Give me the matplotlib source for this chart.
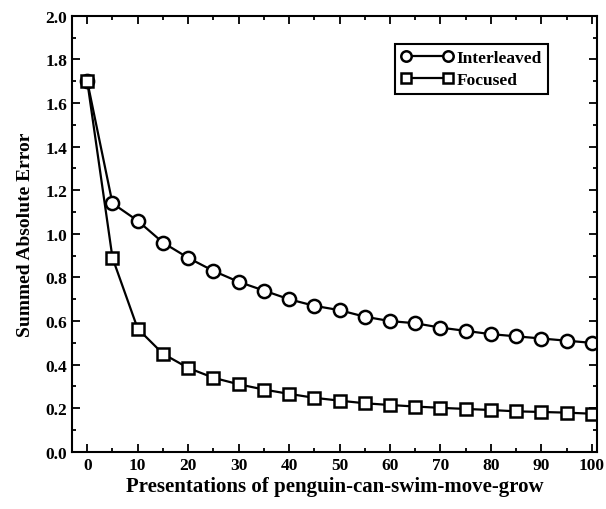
import matplotlib
matplotlib.use('Agg')
import matplotlib.pyplot as plt
from matplotlib.ticker import MultipleLocator

presentations = [0, 5, 10, 15, 20, 25, 30, 35, 40, 45, 50,
	55, 60, 65, 70, 75, 80, 85, 90, 95, 100]
interleaved = [1.70, 1.14, 1.06, 0.96, 0.89, 0.83, 0.78, 0.74, 0.70, 0.67, 0.65,
	0.62, 0.60, 0.59, 0.57, 0.555, 0.54, 0.53, 0.52, 0.51, 0.50]
focused = [1.70, 0.89, 0.565, 0.45, 0.385, 0.34, 0.31, 0.286, 0.266, 0.248, 0.235,
	0.223, 0.215, 0.208, 0.202, 0.197, 0.192, 0.186, 0.183, 0.18, 0.175]

plt.rcParams['font.family'] = ['Liberation Serif', 'DejaVu Serif']
plt.rcParams['font.weight'] = 'bold'

fig = plt.figure(figsize=(6.06, 5.10), dpi=100)
ax = fig.add_axes([0.119, 0.112, 0.866, 0.855])

style = dict(color='black', linewidth=1.6, markeredgewidth=1.8,
	markerfacecolor='white', markeredgecolor='black')
ax.plot(presentations, interleaved, marker='o', markersize=9.5, label='Interleaved', **style)
ax.plot(presentations, focused, marker='s', markersize=8.3, label='Focused', **style)

ax.set_xlim(-3, 101)
ax.set_ylim(0, 2.0)
ax.xaxis.set_major_locator(MultipleLocator(10))
ax.xaxis.set_minor_locator(MultipleLocator(5))
ax.yaxis.set_major_locator(MultipleLocator(0.2))
ax.yaxis.set_minor_locator(MultipleLocator(0.1))
ax.yaxis.set_major_formatter(plt.FormatStrFormatter('%.1f'))
ax.tick_params(which='both', direction='in', top=True, right=True, width=1.3, labelsize=12.5)
ax.tick_params(which='major', length=6)
ax.tick_params(which='minor', length=3)
for s in ax.spines.values():
	s.set_linewidth(1.5)

ax.set_xlabel('Presentations of penguin-can-swim-move-grow', fontsize=15, fontweight='bold', labelpad=2)
ax.set_ylabel('Summed Absolute Error', fontsize=14, fontweight='bold', labelpad=8)

leg = ax.legend(loc='upper right', bbox_to_anchor=(0.907, 0.936), numpoints=2, fancybox=False,
	edgecolor='black', framealpha=1, fontsize=12.5, handlelength=3, borderpad=0.35,
	labelspacing=0.35, handletextpad=0.2, borderaxespad=0)
leg.get_frame().set_linewidth(1.5)
for h in leg.legend_handles:
	h.set_markersize(7.5)

fig.savefig('out.png', dpi=100)
